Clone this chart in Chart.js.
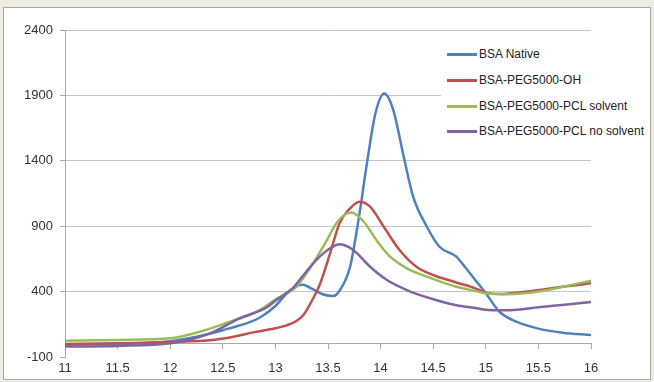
<!DOCTYPE html>
<html>
<head>
<meta charset="utf-8">
<script src="https://cdn.jsdelivr.net/npm/chart.js@4.4.0/dist/chart.umd.min.js"></script>
<style>
body{margin:0;background:#eeebe3;width:654px;height:382px;overflow:hidden;position:relative;font-family:"Liberation Sans",Arial,sans-serif}
#panel{position:absolute;left:3px;top:7px;width:646px;height:371px;border:1px solid #a8a8a8;background:#fff}
#panel canvas{position:absolute;left:0;top:0}
#legend{position:absolute;left:441px;top:40px;width:208px;height:104px;background:#fff}
.item{position:absolute;left:0;height:16px;font-size:12px;line-height:16px;color:#222;white-space:nowrap}
.swatch{position:absolute;left:6px;top:7px;width:30px;height:3px}
.txt{position:absolute;left:38px;top:0}
</style>
</head>
<body>
<div id="panel"><canvas id="myChart" width="646" height="371"></canvas></div>
<div id="legend"></div>
<script>
// series names + colours (Excel 2007 style)
const seriesNames = ['BSA Native', 'BSA-PEG5000-OH', 'BSA-PEG5000-PCL solvent', 'BSA-PEG5000-PCL no solvent'];
const seriesColors = ['#4f81bd', '#c0504d', '#9bbb59', '#8064a2'];

// tick labels
const xTicks = [11, 11.5, 12, 12.5, 13, 13.5, 14, 14.5, 15, 15.5, 16];
const yTicks = [-100, 400, 900, 1400, 1900, 2400];

// values
const nativeX = [11, 11.5, 12, 12.25, 12.5, 12.75, 12.85, 13.0, 13.1, 13.2, 13.26, 13.35, 13.45, 13.55, 13.62, 13.71, 13.8, 13.87, 13.95, 14.035, 14.12, 14.22, 14.31, 14.44, 14.56, 14.72, 14.8, 14.9, 15.0, 15.13, 15.29, 15.49, 15.73, 16];
const nativeY = [-5, 0, 20, 55, 105, 165, 200, 290, 380, 440, 452, 420, 380, 366, 420, 590, 1000, 1380, 1760, 1915, 1790, 1430, 1125, 896, 743, 667, 590, 489, 387, 246, 170, 119, 86, 68];

const ohX = [11, 11.5, 12, 12.4, 12.6, 12.8, 13.0, 13.1, 13.2, 13.27, 13.34, 13.42, 13.52, 13.61, 13.71, 13.8, 13.9, 14.03, 14.18, 14.34, 14.5, 14.72, 14.9, 15.0, 15.13, 15.33, 15.53, 15.73, 16];
const ohY = [0, 5, 15, 30, 55, 90, 120, 140, 175, 225, 320, 450, 693, 922, 1037, 1087, 1049, 896, 718, 590, 527, 470, 425, 392, 382, 395, 415, 437, 463];

const solventX = [11, 11.5, 12, 12.28, 12.57, 12.85, 13.0, 13.11, 13.2, 13.33, 13.49, 13.58, 13.66, 13.72, 13.84, 13.96, 14.09, 14.25, 14.44, 14.72, 14.9, 15.0, 15.2, 15.5, 15.75, 16];
const solventY = [25, 30, 43, 93, 170, 259, 340, 390, 437, 580, 794, 922, 990, 1005, 934, 794, 667, 578, 514, 437, 405, 387, 380, 400, 440, 483];

const noSolventX = [11, 11.5, 12, 12.38, 12.66, 12.92, 13.0, 13.17, 13.23, 13.39, 13.52, 13.61, 13.74, 13.9, 14.06, 14.25, 14.47, 14.72, 14.9, 15.0, 15.15, 15.3, 15.5, 15.75, 16];
const noSolventY = [-20, -15, 5, 81, 195, 280, 330, 430, 489, 642, 731, 762, 718, 590, 489, 412, 349, 295, 275, 262, 258, 262, 280, 300, 320];

function toPoints(xs, ys){
	return xs.map(function(x, i){ return {x: x, y: ys[i]}; });
}

const allX = [nativeX, ohX, solventX, noSolventX];
const allY = [nativeY, ohY, solventY, noSolventY];

window.onload = function() {
	buildLegend();
	createGraph();
}

function buildLegend(){
	var lg = document.getElementById('legend');
	var tops = [6, 32, 58, 83];
	for (var i = 0; i < seriesNames.length; i++) {
		var it = document.createElement('div');
		it.className = 'item';
		it.style.top = tops[i] + 'px';
		it.innerHTML = '<span class="swatch" style="background:' + seriesColors[i] + '"></span><span class="txt">' + seriesNames[i] + '</span>';
		lg.appendChild(it);
	}
}

function createGraph(){
	Chart.defaults.font.family = "'Liberation Sans', Arial, sans-serif";
	var ctx = document.getElementById('myChart').getContext('2d');
	var datasets = [];
	for (var i = 0; i < seriesNames.length; i++) {
		datasets.push({
			label: seriesNames[i],
			data: toPoints(allX[i], allY[i]),
			borderColor: seriesColors[i],
			backgroundColor: seriesColors[i],
			borderWidth: 2.5,
			pointRadius: 0,
			cubicInterpolationMode: 'monotone',
			fill: false,
			order: seriesNames.length - i   // last series on top, like Excel
		});
	}
	var myChart = new Chart(ctx, {
		type: 'line',
		data: { datasets: datasets },
		options: {
			responsive: false,
			animation: false,
			layout: { padding: { top: 22, right: 59, bottom: 22, left: 0 } },
			plugins: { legend: { display: false }, tooltip: { enabled: false } },
			scales: {
				x: {
					type: 'linear',
					position: { y: 0 },
					min: xTicks[0],
					max: xTicks[xTicks.length - 1],
					afterBuildTicks: function(s){ s.ticks = xTicks.map(function(v){ return {value: v}; }); },
					grid: { drawOnChartArea: false, drawTicks: true, tickLength: 5, color: '#a9a9a9' },
					border: { color: '#a9a9a9' },
					ticks: { color: '#333', font: { size: 13 }, padding: 12, maxRotation: 0, autoSkip: false, callback: function(v){ return String(v); } }
				},
				y: {
					type: 'linear',
					min: yTicks[0],
					max: yTicks[yTicks.length - 1],
					afterBuildTicks: function(s){ s.ticks = yTicks.map(function(v){ return {value: v}; }); },
					afterFit: function(s){ s.width = 61; },
					grid: {
						color: function(c){ return (c.tick && c.tick.value === -100) ? 'rgba(0,0,0,0)' : '#c4c4c4'; },
						tickColor: '#a9a9a9',
						tickLength: 5
					},
					border: { color: '#a9a9a9' },
					ticks: { color: '#333', font: { size: 13 }, padding: 7, callback: function(v){ return String(v); } }
				}
			}
		}
	});
}
</script>
</body>
</html>
